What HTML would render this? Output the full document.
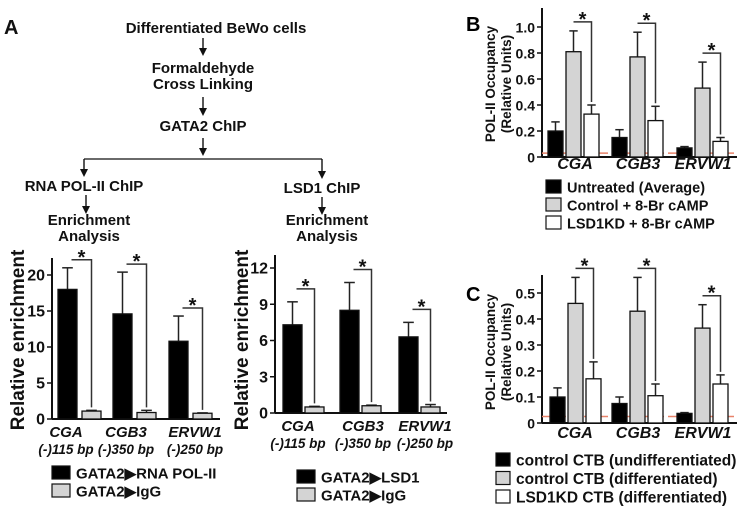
<!DOCTYPE html>
<html><head><meta charset="utf-8"><style>
html,body{margin:0;padding:0;background:#fff;}
svg{display:block;font-family:"Liberation Sans",sans-serif;font-weight:bold;}
</style></head><body>
<svg id="fig" width="745" height="512" viewBox="0 0 745 512">
<g font-size="15" fill="#111" text-anchor="middle">
<text x="4" y="34" font-size="20" text-anchor="start">A</text>
<text x="216" y="33">Differentiated BeWo cells</text>
<text x="203" y="73">Formaldehyde</text>
<text x="203" y="89">Cross Linking</text>
<text x="203" y="131">GATA2 ChIP</text>
<line x1="84" y1="159" x2="322" y2="159" stroke="#111" stroke-width="1.3"/>
<text x="84" y="191">RNA POL-II ChIP</text>
<text x="322" y="193">LSD1 ChIP</text>
<text x="89" y="225">Enrichment</text>
<text x="89" y="241">Analysis</text>
<text x="327" y="225">Enrichment</text>
<text x="327" y="241">Analysis</text>
</g>
<text x="466" y="31" font-size="20">B</text>
<text x="466" y="301" font-size="20">C</text>
</svg>
<script>
// Panel A1 data
const a1Categories = ["CGA","CGB3","ERVW1"];
const a1Sub = ["(-)115 bp","(-)350 bp","(-)250 bp"];
const a1Pol = [18, 14.6, 10.8];
const a1PolErr = [21, 20.4, 14.3];
const a1IgG = [1.1, 0.9, 0.8];
const a1IgGErr = [1.2, 1.2, 0.85];
const a1Ticks = [0,5,10,15,20];
// Panel A2 data
const a2Lsd = [7.3, 8.5, 6.3];
const a2LsdErr = [9.2, 10.8, 7.5];
const a2IgG = [0.5, 0.6, 0.5];
const a2IgGErr = [0.55, 0.65, 0.7];
const a2Ticks = [0,3,6,9,12];
// Panel B data
const bCategories = ["CGA","CGB3","ERVW1"];
const bUntreated = [0.2, 0.15, 0.07];
const bUntreatedErr = [0.27, 0.21, 0.08];
const bControl = [0.81, 0.77, 0.53];
const bControlErr = [0.97, 0.96, 0.73];
const bKD = [0.33, 0.28, 0.12];
const bKDErr = [0.4, 0.39, 0.15];
const bTicks = ["0","0.2","0.4","0.6","0.8","1.0"];
const bBaseline = 0.03;
// Panel C data
const cUndiff = [0.1, 0.075, 0.037];
const cUndiffErr = [0.135, 0.1, 0.04];
const cDiff = [0.46, 0.43, 0.365];
const cDiffErr = [0.56, 0.56, 0.455];
const cKD = [0.17, 0.105, 0.15];
const cKDErr = [0.235, 0.15, 0.185];
const cTicks = ["0","0.1","0.2","0.3","0.4","0.5"];
const cBaseline = 0.025;

const svg = document.getElementById('fig');
const NS = 'http://www.w3.org/2000/svg';
function mk(tag, attrs, parent){ const e=document.createElementNS(NS,tag); for(const k in attrs) e.setAttribute(k,attrs[k]); (parent||svg).appendChild(e); return e; }

function arrow(x,y1,y2){
  mk('line',{x1:x,y1:y1,x2:x,y2:y2-6,stroke:'#111','stroke-width':1.4});
  mk('polygon',{points:`${x-4},${y2-8} ${x+4},${y2-8} ${x},${y2}`,fill:'#111'});
}
arrow(203,38,56); arrow(203,97,116); arrow(203,138,156);
arrow(84,159,177); arrow(322,159,179); arrow(86,195,214); arrow(322,197,215);

function chart(cfg){
  const g = mk('g',{});
  
  
  const y = v => cfg.y0 - v * (cfg.y0 - cfg.yTop) / cfg.vTop;
  mk('line',{x1:cfg.ax,y1:cfg.axTop,x2:cfg.ax,y2:cfg.y0,stroke:'#111','stroke-width':2},g);
  mk('line',{x1:cfg.ax,y1:cfg.y0,x2:cfg.axEnd,y2:cfg.y0,stroke:'#111','stroke-width':2},g);
  cfg.ticks.forEach(t=>{
    const v=parseFloat(t), yy=y(v);
    mk('line',{x1:cfg.ax-5,y1:yy,x2:cfg.ax,y2:yy,stroke:'#111','stroke-width':1.5},g);
    const tx=mk('text',{x:cfg.ax-7,y:yy+5.5,'font-size':cfg.tickFs,'text-anchor':'end',fill:'#111'},g);
    
    
    tx.textContent=t;
  });
  if(cfg.baseline!==undefined){
    const l=mk('line',{x1:cfg.ax,y1:y(cfg.baseline),x2:cfg.axEnd,y2:y(cfg.baseline),stroke:'#e8836a','stroke-width':1.5,'stroke-dasharray':'10,4'},g);
    
    
  }
  cfg.series.forEach((s,si)=>{
    s.vals.forEach((v,i)=>{
      const x=cfg.groupX[i]+si*cfg.step;
      const ex=x+cfg.bw/2;
      const cw=cfg.bw*0.28;
      mk('line',{x1:ex,y1:y(s.err[i]),x2:ex,y2:y(v),stroke:'#222','stroke-width':1.5},g);
      mk('line',{x1:ex-cw,y1:y(s.err[i]),x2:ex+cw,y2:y(s.err[i]),stroke:'#222','stroke-width':1.5},g);
      const r=mk('rect',{x:x,y:y(v),width:cfg.bw,height:cfg.y0-y(v),fill:s.fill,stroke:'#111','stroke-width':1.3},g);
      
      
    });
  });
  cfg.cats.forEach((c,i)=>{
    const a=cfg.sigFrom, b=cfg.sigTo;
    const x1=cfg.groupX[i]+a*cfg.step+cfg.bw/2+cfg.bx;
    const x2=cfg.groupX[i]+b*cfg.step+cfg.bw/2;
    const top=y(cfg.series[a].err[i])-cfg.bOff;
    const bot=y(cfg.series[b].err[i])-3;
    mk('polyline',{points:`${x1},${top} ${x2},${top} ${x2},${bot}`,fill:'none',stroke:'#333','stroke-width':1.5},g);
    const st=mk('text',{x:(x1+x2)/2,y:top+4,'font-size':20,'text-anchor':'middle',fill:'#111'},g);
    
    
    st.textContent='*';
  });
  cfg.cats.forEach((c,i)=>{
    const cx=cfg.labelX[i];
    const t=mk('text',{x:cx,y:cfg.labelY,'font-size':cfg.labelFs,'text-anchor':'middle','font-style':'italic',fill:'#111'},g);
    
    
    t.textContent=c;
    if(cfg.sub){
      const t2=mk('text',{x:cx,y:cfg.labelY+17,'font-size':cfg.subFs,'text-anchor':'middle','font-style':'italic',fill:'#111'},g);
      
      
      t2.textContent=cfg.sub[i];
    }
  });
  cfg.ylab.forEach((txt,k)=>{
    const t=mk('text',{x:0,y:0,'font-size':cfg.ylabFs,'text-anchor':'middle',fill:'#111',transform:`translate(${cfg.ylabX[k]},${cfg.ylabY}) rotate(-90)`},g);
    
    
    t.textContent=txt;
  });
  cfg.legend.forEach((L,k)=>{
    const yy=cfg.legY+k*cfg.legDy;
    const r=mk('rect',{x:cfg.legX,y:yy-7,width:cfg.legBox,height:13,fill:L.fill,stroke:'#111','stroke-width':1.2},g);
    
    
    const t=mk('text',{x:cfg.legX+cfg.legBox+6,y:yy+5.5,'font-size':cfg.legFs,fill:'#111'},g);
    
    
    t.textContent=L.text;
  });
}

chart({name:'chart-rna-pol-enrichment',ax:52,axTop:258,axEnd:220,y0:419,yTop:275,vTop:20,ticks:a1Ticks.map(String),tickFs:16,
  groupX:[58,113,169],step:24,bw:19,cats:a1Categories,sub:a1Sub,labelX:[66,126,195],labelY:437,labelFs:15,subFs:13.5,
  series:[{key:'gata2-rna-pol',vals:a1Pol,err:a1PolErr,fill:'#000'},{key:'gata2-igg',vals:a1IgG,err:a1IgGErr,fill:'#d4d4d4'}],
  sigFrom:0,sigTo:1,bx:4,bOff:8,ylab:['Relative enrichment'],ylabX:[24],ylabY:340,ylabFs:19,
  legend:[{fill:'#000',text:'GATA2\u25B6RNA POL-II'},{fill:'#d4d4d4',text:'GATA2\u25B6IgG'}],legX:52,legY:473,legDy:18,legBox:18,legFs:15});

chart({name:'chart-lsd1-enrichment',ax:275,axTop:255,axEnd:447,y0:413,yTop:268,vTop:12,ticks:a2Ticks.map(String),tickFs:16,
  groupX:[283,340,399],step:22,bw:19,cats:a1Categories,sub:a1Sub,labelX:[298,363,425],labelY:431,labelFs:15,subFs:13.5,
  series:[{key:'gata2-lsd1',vals:a2Lsd,err:a2LsdErr,fill:'#000'},{key:'gata2-igg',vals:a2IgG,err:a2IgGErr,fill:'#d4d4d4'}],
  sigFrom:0,sigTo:1,bx:4,bOff:13,ylab:['Relative enrichment'],ylabX:[248],ylabY:340,ylabFs:19,
  legend:[{fill:'#000',text:'GATA2\u25B6LSD1'},{fill:'#d4d4d4',text:'GATA2\u25B6IgG'}],legX:297,legY:477,legDy:18,legBox:18,legFs:15});

chart({name:'chart-b-pol-occupancy',ax:542,axTop:8,axEnd:737,y0:157,yTop:27,vTop:1.0,ticks:bTicks,tickFs:14,
  groupX:[548,612,677],step:18,bw:15,cats:bCategories,labelX:[575,638,703],labelY:169,labelFs:16,
  series:[{key:'untreated',vals:bUntreated,err:bUntreatedErr,fill:'#000'},{key:'control-8br',vals:bControl,err:bControlErr,fill:'#d4d4d4'},{key:'lsd1kd-8br',vals:bKD,err:bKDErr,fill:'#fff'}],
  baseline:bBaseline,sigFrom:1,sigTo:2,bx:0,bOff:9,ylab:['POL-II Occupancy','(Relative Units)'],ylabX:[495,511],ylabY:84,ylabFs:13.5,
  legend:[{fill:'#000',text:'Untreated (Average)'},{fill:'#d4d4d4',text:'Control + 8-Br cAMP'},{fill:'#fff',text:'LSD1KD + 8-Br cAMP'}],legX:546,legY:187,legDy:18,legBox:15,legFs:14.5});

chart({name:'chart-c-pol-occupancy',ax:542,axTop:275,axEnd:737,y0:423,yTop:293,vTop:0.5,ticks:cTicks,tickFs:14,
  groupX:[550,612,677],step:18,bw:15,cats:bCategories,labelX:[575,638,703],labelY:438,labelFs:16,
  series:[{key:'control-undiff',vals:cUndiff,err:cUndiffErr,fill:'#000'},{key:'control-diff',vals:cDiff,err:cDiffErr,fill:'#d4d4d4'},{key:'lsd1kd-diff',vals:cKD,err:cKDErr,fill:'#fff'}],
  baseline:cBaseline,sigFrom:1,sigTo:2,bx:0,bOff:9,ylab:['POL-II Occupancy','(Relative Units)'],ylabX:[495,511],ylabY:352,ylabFs:13.5,
  legend:[{fill:'#000',text:'control CTB (undifferentiated)'},{fill:'#d4d4d4',text:'control CTB (differentiated)'},{fill:'#fff',text:'LSD1KD CTB (differentiated)'}],legX:496,legY:460,legDy:18.5,legBox:14,legFs:15.5});
</script>
</body></html>
